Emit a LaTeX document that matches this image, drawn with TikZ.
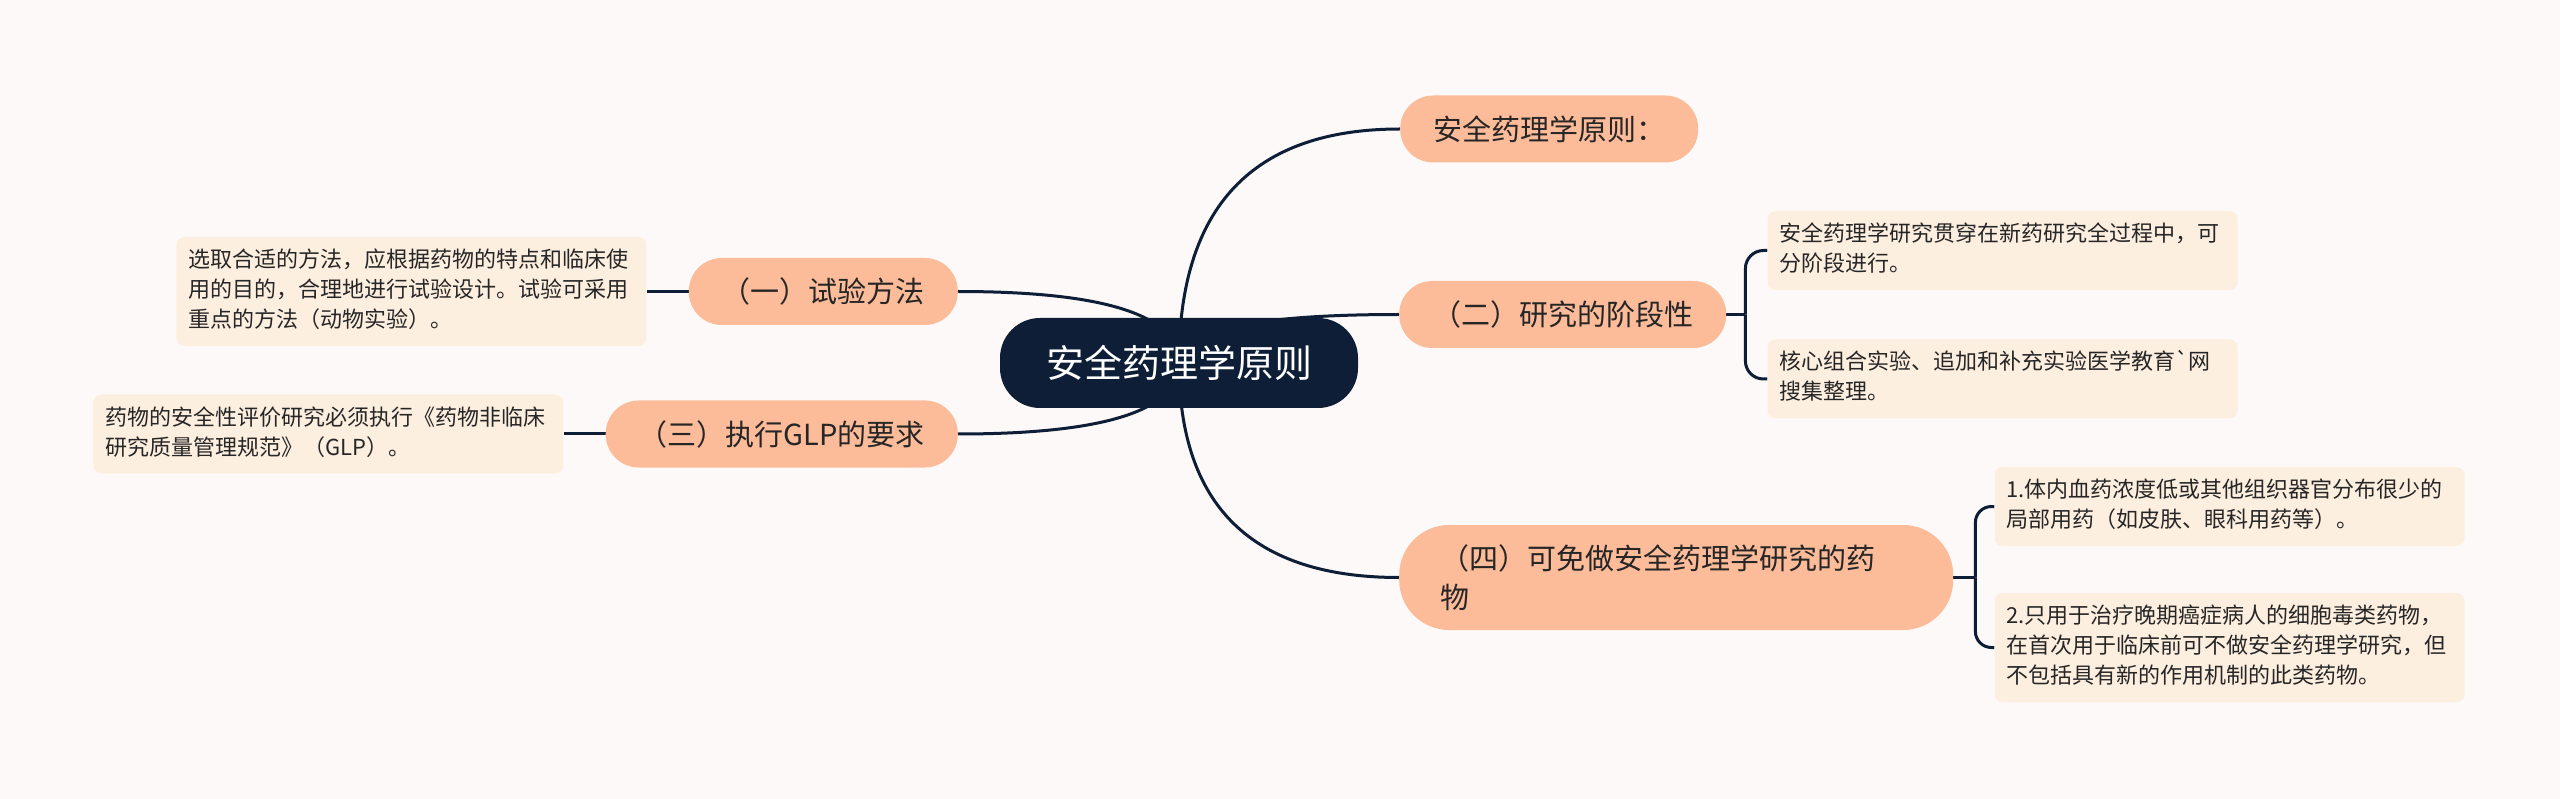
\documentclass[tikz,border=0pt]{standalone}
\usepackage{fontspec}
\setmainfont{Noto Sans CJK SC}
\usetikzlibrary{positioning,calc,backgrounds}
\definecolor{rootnavy}{RGB}{13,30,54}
\definecolor{peach}{RGB}{252,187,153}
\definecolor{cream}{RGB}{253,239,224}
\definecolor{paper}{RGB}{253,249,248}
\definecolor{ink}{RGB}{38,38,38}

\begin{document}
\begin{tikzpicture}[x=1pt,y=-1pt,
  root/.style={rectangle,rounded corners=40pt,fill=rootnavy,text=white,
    minimum width=358pt,minimum height=90pt,font=\fontsize{38}{46}\selectfont},
  branch/.style={rectangle,rounded corners=33pt,fill=peach,text=ink,
    minimum height=67pt,inner xsep=33pt,font=\fontsize{29}{39}\selectfont},
  leaf/.style={rectangle,rounded corners=8pt,fill=cream,text=ink,
    text width=446pt,align=left,inner xsep=12pt,inner ysep=9.5pt,
    font=\fontsize{22}{30}\selectfont,
    execute at begin node=\strut,execute at end node=\strut},
  link/.style={draw=rootnavy,line width=3pt}
]
\begin{pgfonlayer}{background}
  \fill[paper] (0,0) rectangle (2560,799);
\end{pgfonlayer}
\useasboundingbox (0,0) rectangle (2560,799);

% centre
\node[root] (root) at (1179,363) {安全药理学原则};

% right side
\node[branch,anchor=west] (m0) at (1400,129) {安全药理学原则：};
\node[branch,anchor=west] (m2) at (1399,314.5) {（二）研究的阶段性};
\node[branch,anchor=west,rounded corners=50pt,minimum height=105pt,
  text width=472pt,align=left,inner xsep=41pt] (m4) at (1399,577.5)
  {（四）可免做安全药理学研究的药\\物};

% left side
\node[branch,anchor=east] (m1) at (958,291.5) {（一）试验方法};
\node[branch,anchor=east] (m3) at (958,434) {（三）执行GLP的要求};

% leaves
\node[leaf,left=42pt of m1] (l1)
  {选取合适的方法，应根据药物的特点和临床使\\用的目的，合理地进行试验设计。试验可采用\\重点的方法（动物实验）。};
\node[leaf,left=42pt of m3] (l3)
  {药物的安全性评价研究必须执行《药物非临床\\研究质量管理规范》（GLP）。};
\node[leaf,anchor=west] (l2a) at ($(m2.east)+(41,-64)$)
  {安全药理学研究贯穿在新药研究全过程中，可\\分阶段进行。};
\node[leaf,anchor=west] (l2b) at ($(m2.east)+(41,64.5)$)
  {核心组合实验、追加和补充实验医学教育\textasciigrave 网\\搜集整理。};
\node[leaf,anchor=west] (l4a) at ($(m4.east)+(41,-71)$)
  {1.体内血药浓度低或其他组织器官分布很少的\\局部用药（如皮肤、眼科用药等）。};
\node[leaf,anchor=west] (l4b) at ($(m4.east)+(41,70)$)
  {2.只用于治疗晚期癌症病人的细胞毒类药物，\\在首次用于临床前可不做安全药理学研究，但\\不包括具有新的作用机制的此类药物。};

\begin{pgfonlayer}{background}
  \foreach \t in {m0,m2,m4}
    \draw[link] (root.center) .. controls ($(root.center)!.667!(root.center |- \t.west)$)
      and ($(\t.west)!.667!(root.center |- \t.west)$) .. (\t.west);
  \foreach \t in {m1,m3}
    \draw[link] (root.center) .. controls ($(root.center)!.667!(root.center |- \t.east)$)
      and ($(\t.east)!.667!(root.center |- \t.east)$) .. (\t.east);
  \draw[link] (m1) -- (l1);
  \draw[link] (m3) -- (l3);
  \draw[link] (m2.east) -- ++(19,0) coordinate (b2);
  \draw[link,rounded corners=18pt] (b2) |- (l2a.west);
  \draw[link,rounded corners=18pt] (b2) |- (l2b.west);
  \draw[link] (m4.east) -- ++(22,0) coordinate (b4);
  \draw[link,rounded corners=16pt] (b4) |- (l4a.west);
  \draw[link,rounded corners=16pt] (b4) |- (l4b.west);
\end{pgfonlayer}
\end{tikzpicture}
\end{document}
